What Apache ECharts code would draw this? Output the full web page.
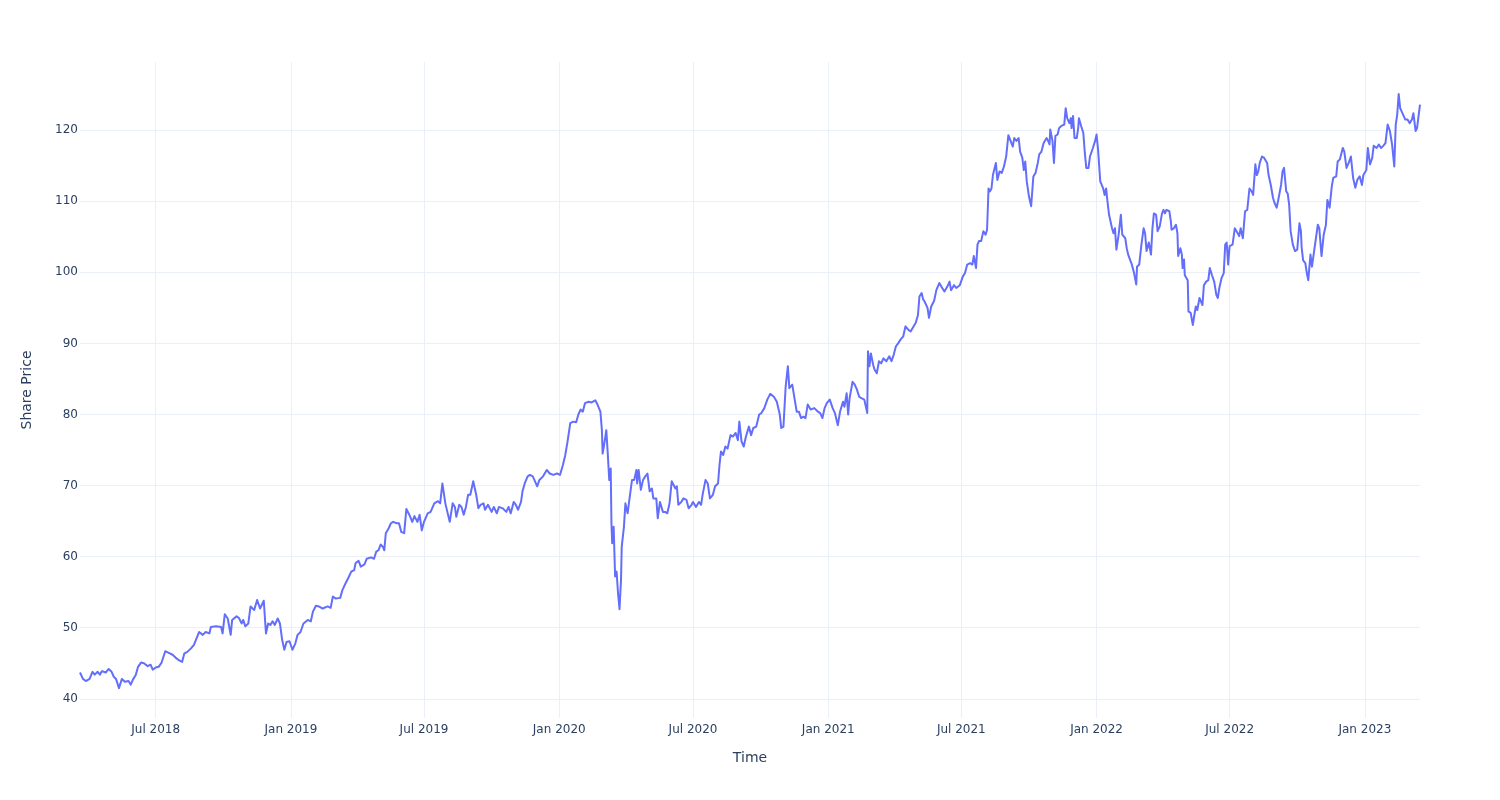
<!DOCTYPE html>
<html><head><meta charset="utf-8">
<script src="https://cdn.jsdelivr.net/npm/echarts@6/dist/echarts.min.js"></script>
<style>html,body{margin:0;padding:0;background:#fff}#c{width:1500px;height:800px}</style>
</head><body><div id="c"></div>
<script>
// Dates stored as MM-DD per year, with matching share price values
const d2018 = ['03-20','03-24','03-28','04-02','04-06','04-09','04-13','04-16','04-19','04-24','04-28','05-02','05-05','05-08','05-12','05-16','05-20','05-25','05-28','05-31','06-04','06-07','06-11','06-15','06-20','06-24','06-27','07-01','07-05','07-09','07-14','07-18','07-24','07-28','08-02','08-06','08-09','08-13','08-18','08-22','08-24','08-29','09-03','09-07','09-12','09-14','09-21','09-28','09-30','10-03','10-07','10-11','10-13','10-19','10-22','10-26','10-28','10-31','11-04','11-07','11-12','11-16','11-20','11-25','11-28','12-01','12-04','12-07','12-10','12-14','12-17','12-20','12-23','12-26','12-30'];
const p2018 = [43.7,42.8,42.5,42.8,43.8,43.4,43.8,43.4,43.9,43.7,44.2,43.8,43.1,42.8,41.5,42.8,42.4,42.5,42.0,42.7,43.4,44.5,45.1,45.0,44.6,44.8,44.1,44.4,44.5,45.1,46.7,46.5,46.2,45.8,45.4,45.2,46.4,46.6,47.1,47.6,47.8,49.4,49.0,49.4,49.2,50.1,50.2,50.1,49.2,51.9,51.3,49.0,51.1,51.6,51.4,50.6,51.1,50.2,50.6,53.0,52.5,53.9,52.7,53.8,49.2,50.6,50.4,50.9,50.4,51.3,50.6,48.3,46.9,48.0,48.1];

const d2019 = ['01-03','01-07','01-10','01-14','01-18','01-24','01-28','01-31','02-04','02-08','02-13','02-20','02-24','02-27','03-03','03-09','03-12','03-16','03-20','03-24','03-28','03-30','04-03','04-06','04-11','04-14','04-20','04-24','04-27','04-30','05-03','05-06','05-08','05-10','05-14','05-17','05-20','05-25','05-28','05-31','06-04','06-07','06-11','06-15','06-18','06-22','06-25','06-28','07-01','07-06','07-10','07-15','07-20','07-23','07-26','07-30','08-01','08-05','08-09','08-12','08-14','08-18','08-21','08-24','08-27','08-30','09-02','09-06','09-10','09-13','09-16','09-20','09-22','09-26','10-01','10-04','10-08','10-11','10-16','10-21','10-24','10-27','10-31','11-03','11-06','11-10','11-12','11-15','11-19','11-22','11-26','11-29','12-02','12-05','12-10','12-15','12-19','12-24','12-29'];
const p2019 = [46.9,47.8,49.0,49.4,50.6,51.1,50.9,52.3,53.1,53.0,52.7,53.0,52.8,54.4,54.1,54.2,55.3,56.2,57.0,57.9,58.1,59.1,59.4,58.6,58.9,59.7,59.9,59.7,60.7,60.9,61.7,61.4,60.9,63.3,64.0,64.7,64.9,64.7,64.7,63.5,63.3,66.7,65.9,64.9,65.7,64.9,65.9,63.7,64.9,66.1,66.3,67.5,67.8,67.5,70.3,67.5,67.7,64.9,67.5,67.0,65.6,67.3,67.0,65.9,67.0,68.7,68.7,70.6,68.7,66.8,67.3,67.5,66.6,67.3,66.3,67.0,66.1,67.0,66.8,66.3,67.0,66.1,67.7,67.3,66.6,67.7,69.2,70.3,71.3,71.5,71.3,70.6,69.9,70.8,71.3,72.2,71.7,71.5,71.7];

const d2020 = ['01-02','01-06','01-09','01-12','01-16','01-20','01-24','01-27','01-30','02-02','02-05','02-10','02-14','02-19','02-22','02-26','02-28','02-29','03-02','03-05','03-07','03-09','03-11','03-12','03-13','03-15','03-17','03-19','03-21','03-23','03-25','03-26','03-29','03-31','04-03','04-05','04-09','04-12','04-15','04-16','04-18','04-21','04-24','04-27','04-30','05-03','05-06','05-08','05-12','05-14','05-17','05-21','05-24','05-27','05-30','06-02','06-04','06-07','06-09','06-11','06-15','06-18','06-22','06-25','06-29','07-01','07-05','07-09','07-12','07-14','07-18','07-21','07-24','07-28','07-31','08-04','08-06','08-08','08-11','08-14','08-17','08-21','08-24','08-28','08-31','09-02','09-05','09-08','09-11','09-15','09-18','09-21','09-25','09-29','10-02','10-06','10-10','10-14','10-19','10-23','10-27','10-29','11-01','11-04','11-07','11-09','11-13','11-16','11-19','11-22','11-25','11-28','12-01','12-04','12-08','12-09','12-13','12-18','12-21','12-24','12-27','12-30'];
const p2020 = [71.5,72.9,74.2,76.0,78.8,79.0,78.9,80.0,80.7,80.4,81.6,81.8,81.7,82.0,81.4,80.4,77.8,74.5,75.7,77.8,74.5,70.8,72.4,64.7,61.9,64.2,57.2,57.9,54.8,52.6,56.7,61.4,64.2,67.5,66.1,67.7,70.8,70.8,72.2,70.3,72.2,69.4,70.8,71.3,71.7,69.2,69.6,68.2,68.2,65.4,67.7,66.3,66.3,66.1,67.5,70.6,70.6,69.6,69.9,67.3,67.7,68.2,68.0,66.8,67.3,67.7,67.0,67.7,67.3,68.7,70.8,70.3,68.2,68.7,69.9,70.3,72.9,74.8,74.3,75.5,75.2,77.1,76.9,77.4,76.4,79.0,76.2,75.5,76.9,78.3,77.1,78.1,78.3,80.0,80.2,80.9,82.1,82.9,82.5,81.8,80.0,78.1,78.3,83.9,86.8,83.7,84.2,82.3,80.4,80.4,79.5,79.7,79.5,81.4,80.7,80.9,80.9,80.4,80.2,79.5,80.9,81.6];

const d2021 = ['01-03','01-07','01-10','01-14','01-17','01-21','01-23','01-26','01-28','01-30','02-03','02-06','02-09','02-12','02-15','02-19','02-23','02-24','02-26','02-28','03-03','03-05','03-08','03-11','03-14','03-17','03-21','03-25','03-28','03-31','04-03','04-06','04-09','04-13','04-16','04-20','04-23','04-26','04-30','05-03','05-05','05-08','05-10','05-12','05-16','05-18','05-21','05-25','05-28','06-01','06-05','06-08','06-12','06-15','06-17','06-21','06-24','06-29','07-03','07-06','07-09','07-13','07-16','07-18','07-21','07-23','07-25','07-28','07-31','08-03','08-05','08-07','08-09','08-11','08-13','08-17','08-19','08-22','08-25','08-28','08-31','09-03','09-06','09-09','09-11','09-14','09-17','09-19','09-22','09-24','09-26','09-28','10-01','10-04','10-07','10-10','10-13','10-15','10-18','10-21','10-25','10-27','10-29','10-30','11-02','11-04','11-06','11-09','11-11','11-14','11-18','11-20','11-22','11-25','11-27','11-28','11-30','12-02','12-05','12-07','12-08','12-11','12-14','12-16','12-18','12-21','12-23','12-27','12-30'];
const p2021 = [82.1,80.9,80.2,78.5,80.4,81.8,81.1,83.0,80.0,82.3,84.6,84.2,83.5,82.5,82.3,82.1,80.2,88.9,86.8,88.6,87.0,86.3,85.8,87.5,87.2,87.9,87.5,88.2,87.5,88.4,89.6,90.0,90.5,91.0,92.4,91.9,91.7,92.2,92.9,94.0,96.6,97.1,96.2,95.9,95.0,93.6,95.2,96.0,97.5,98.5,97.8,97.3,98.0,98.7,97.5,98.2,97.8,98.2,99.4,99.9,101.1,101.3,101.1,102.3,100.6,103.9,104.4,104.4,105.8,105.3,106.0,111.8,111.4,111.8,113.7,115.4,113.0,114.2,114.0,114.9,116.3,119.3,118.5,117.7,118.9,118.5,118.9,117.0,116.1,114.4,115.6,112.8,110.7,109.3,113.5,114.0,115.4,116.6,117.0,118.2,118.9,118.5,118.0,120.1,118.5,115.4,119.2,119.4,120.3,120.6,120.8,123.1,121.7,121.0,121.7,120.3,122.0,118.9,118.9,120.3,121.7,120.6,119.6,116.8,114.7,114.7,116.3,117.5,118.5];

const d2022 = ['01-01','01-03','01-06','01-08','01-10','01-12','01-14','01-16','01-18','01-22','01-24','01-26','01-28','01-31','02-03','02-05','02-09','02-11','02-13','02-15','02-18','02-21','02-24','02-25','02-28','03-03','03-06','03-08','03-10','03-13','03-16','03-18','03-20','03-23','03-25','03-28','03-31','04-02','04-04','04-06','04-10','04-12','04-13','04-16','04-19','04-21','04-22','04-25','04-27','04-28','04-30','05-01','05-05','05-06','05-09','05-12','05-14','05-16','05-18','05-21','05-23','05-25','05-27','05-30','06-02','06-04','06-07','06-10','06-13','06-15','06-17','06-20','06-23','06-25','06-27','06-29','07-01','07-05','07-08','07-12','07-14','07-16','07-19','07-22','07-25','07-28','07-31','08-02','08-05','08-07','08-09','08-11','08-14','08-17','08-21','08-23','08-26','08-29','08-31','09-03','09-05','09-09','09-11','09-13','09-16','09-18','09-20','09-22','09-25','09-28','10-01','10-04','10-06','10-07','10-09','10-12','10-14','10-16','10-19','10-21','10-23','10-25','10-29','10-31','11-03','11-06','11-09','11-11','11-14','11-17','11-19','11-23','11-25','11-28','12-02','12-04','12-07','12-10','12-13','12-16','12-19','12-22','12-25','12-28','12-30'];
const p2022 = [119.4,117.3,112.8,112.3,111.8,110.9,111.8,109.8,108.1,106.2,105.5,106.2,103.2,105.3,108.1,105.3,104.8,103.4,102.5,102.5,101.1,99.9,98.3,100.8,101.1,103.9,106.2,105.5,103.0,104.2,102.5,106.2,108.3,108.1,105.8,106.5,108.3,108.8,108.3,108.8,108.6,107.2,106.0,106.2,106.7,105.5,102.3,103.4,102.5,100.6,101.8,99.6,98.9,94.5,94.3,92.6,94.0,95.2,94.7,96.4,96.6,95.4,98.2,98.7,98.9,100.6,99.6,98.7,96.8,96.4,97.8,99.2,99.9,103.9,104.2,101.1,103.7,103.9,106.2,105.5,105.1,106.2,104.8,108.6,108.8,111.8,111.4,110.9,115.2,113.7,114.2,115.4,116.3,116.1,115.4,113.7,112.3,110.5,109.8,109.1,110.1,112.3,114.2,114.7,111.4,111.1,109.5,105.8,103.9,103.0,103.2,106.9,105.8,103.5,101.7,101.3,99.9,98.9,102.5,100.8,102.3,102.5,106.7,106.2,102.3,105.3,106.7,110.2,109.1,112.1,113.3,113.5,115.6,115.9,117.5,117.0,114.7,115.4,116.3,113.3,111.9,113.1,113.5,112.3,113.7];

const d2023 = ['01-03','01-05','01-08','01-11','01-13','01-17','01-20','01-23','01-26','01-29','02-01','02-04','02-07','02-10','02-12','02-14','02-16','02-18','02-22','02-25','02-28','03-03','03-06','03-08','03-11','03-13','03-15','03-17'];
const p2023 = [114.4,117.5,115.2,116.1,117.8,117.5,118.0,117.5,117.8,118.2,120.8,119.9,118.0,114.9,120.8,122.2,125.1,123.1,122.2,121.5,121.5,121.0,121.5,122.4,119.9,120.3,122.0,123.6];

const years = [[2018,d2018,p2018],[2019,d2019,p2019],[2020,d2020,p2020],[2021,d2021,p2021],[2022,d2022,p2022],[2023,d2023,p2023]];
const seriesData = [];
years.forEach(([y, ds, ps]) => ds.forEach((d, i) => seriesData.push([y + '-' + d, ps[i]])));

const xTitle = 'Time';
const yTitle = 'Share Price';
const monthNames = ['Jan','Feb','Mar','Apr','May','Jun','Jul','Aug','Sep','Oct','Nov','Dec'];

const FONT = 'DejaVu Sans';
const TXT = '#2a3f5f';
const GRID = '#EBF0F8';
const DAY = 86400000;

const chart = echarts.init(document.getElementById('c'), null, {renderer: 'canvas'});
chart.setOption({
  animation: false,
  backgroundColor: '#fff',
  grid: {left: 80, right: 80, top: 62, bottom: 82, containLabel: false},
  xAxis: {
    type: 'time',
    min: seriesData[0][0],
    max: seriesData[seriesData.length - 1][0],
    splitNumber: 10,
    minInterval: 170 * DAY,
    maxInterval: 200 * DAY,
    name: xTitle,
    nameLocation: 'middle',
    nameGap: 33,
    nameTextStyle: {color: TXT, fontSize: 14, fontFamily: FONT},
    axisLine: {show: false},
    axisTick: {show: false},
    axisLabel: {
      color: TXT, fontSize: 12, fontFamily: FONT, margin: 6,
      showMinLabel: false, showMaxLabel: false, hideOverlap: false,
      formatter: function (v) {
        const d = new Date(v);
        if (d.getDate() !== 1) return '';
        const m = d.getMonth();
        if (m !== 0 && m !== 6) return '';
        return monthNames[m] + ' ' + d.getFullYear();
      }
    },
    splitLine: {show: true, showMinLine: false, showMaxLine: false, lineStyle: {color: GRID, width: 1}}
  },
  yAxis: {
    type: 'value',
    min: 37.3,
    max: 129.6,
    splitNumber: 10,
    name: yTitle,
    nameLocation: 'middle',
    nameGap: 46,
    nameRotate: 90,
    nameTextStyle: {color: TXT, fontSize: 14, fontFamily: FONT},
    axisLine: {show: false},
    axisTick: {show: false},
    axisLabel: {color: TXT, fontSize: 12, fontFamily: FONT, margin: 2, showMinLabel: false, showMaxLabel: false},
    splitLine: {show: true, showMinLine: false, showMaxLine: false, lineStyle: {color: GRID, width: 1}}
  },
  series: [{
    type: 'line',
    data: seriesData,
    showSymbol: false,
    symbol: 'none',
    lineStyle: {color: '#636efa', width: 2, join: 'round'},
    itemStyle: {color: '#636efa'}
  }]
});
</script>
</body></html>
